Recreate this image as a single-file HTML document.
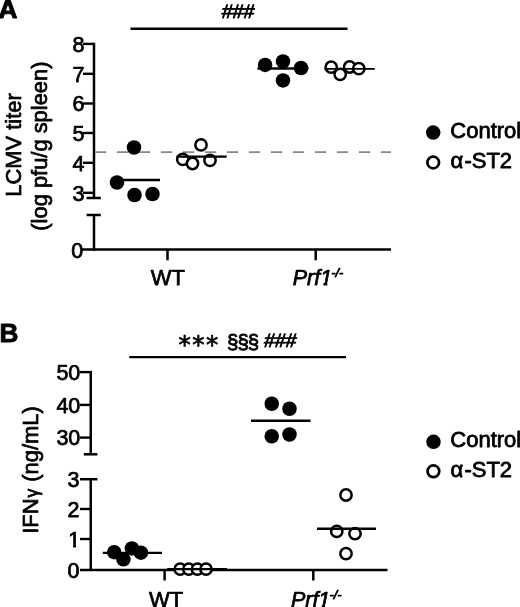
<!DOCTYPE html>
<html><head><meta charset="utf-8"><title>Figure</title>
<style>
html,body{margin:0;padding:0;background:#fff;}
body{width:520px;height:607px;overflow:hidden;}
svg{display:block;font-family:"Liberation Sans",sans-serif;fill:#000;filter:blur(0.35px);}
text{stroke:#000;stroke-width:0.75px;stroke-linejoin:round;}
</style></head><body>
<svg width="520" height="607" viewBox="0 0 520 607">
<rect width="520" height="607" fill="#fff"/>
<text x="-1.6" y="18" font-size="26.2" text-anchor="start" font-weight="bold" style="stroke-width:0.9px">A</text>
<text transform="translate(237.5,18) skewX(-6)" font-size="19.5" text-anchor="middle" style="stroke-width:0.9px">###</text>
<line x1="130.5" y1="28.7" x2="347.5" y2="28.7" stroke="#000" stroke-width="2.4" />
<line x1="94" y1="42.7" x2="94" y2="198" stroke="#000" stroke-width="2.5" />
<line x1="94" y1="215" x2="94" y2="250.8" stroke="#000" stroke-width="2.5" />
<line x1="86.6" y1="198" x2="100.8" y2="198" stroke="#000" stroke-width="2.5" />
<line x1="86.6" y1="215" x2="100.8" y2="215" stroke="#000" stroke-width="2.5" />
<line x1="83" y1="43.9" x2="94" y2="43.9" stroke="#000" stroke-width="2.4" />
<text x="84.5" y="51.699999999999996" font-size="21.5" text-anchor="end" >8</text>
<line x1="83" y1="73.8" x2="94" y2="73.8" stroke="#000" stroke-width="2.4" />
<text x="84.5" y="81.6" font-size="21.5" text-anchor="end" >7</text>
<line x1="83" y1="103.5" x2="94" y2="103.5" stroke="#000" stroke-width="2.4" />
<text x="84.5" y="111.3" font-size="21.5" text-anchor="end" >6</text>
<line x1="83" y1="133" x2="94" y2="133" stroke="#000" stroke-width="2.4" />
<text x="84.5" y="140.8" font-size="21.5" text-anchor="end" >5</text>
<line x1="83" y1="162.8" x2="94" y2="162.8" stroke="#000" stroke-width="2.4" />
<text x="84.5" y="170.60000000000002" font-size="21.5" text-anchor="end" >4</text>
<line x1="83" y1="192.8" x2="94" y2="192.8" stroke="#000" stroke-width="2.4" />
<text x="84.5" y="200.60000000000002" font-size="21.5" text-anchor="end" >3</text>
<text x="83.3" y="258.2" font-size="21.5" text-anchor="end" >0</text>
<line x1="82" y1="249.6" x2="391" y2="249.6" stroke="#000" stroke-width="2.5" />
<line x1="167.5" y1="249.6" x2="167.5" y2="260.3" stroke="#000" stroke-width="2.5" />
<line x1="315.7" y1="249.6" x2="315.7" y2="260.3" stroke="#000" stroke-width="2.5" />
<text x="167.9" y="285" font-size="22" text-anchor="middle" >WT</text>
<text x="292.7" y="285.4" font-size="21.5" font-style="italic">Prf1<tspan dy="-8" dx="-0.9" font-size="12.8">-/-</tspan></text>
<rect x="319.3" y="282.7" width="4.1" height="4" fill="#fff"/><rect x="327.3" y="282.7" width="4.4" height="4" fill="#fff"/>
<line x1="94.9" y1="152.2" x2="391" y2="152.2" stroke="#888" stroke-width="1.8" stroke-dasharray="11.3 10.7"/>
<text transform="translate(21.3,145) rotate(-90)" font-size="21.9" text-anchor="middle">LCMV titer</text>
<text transform="translate(46.5,146.1) rotate(-90)" font-size="21.9" text-anchor="middle">(log pfu/g spleen)</text>
<line x1="122.5" y1="180" x2="160" y2="180" stroke="#000" stroke-width="2.3" />
<circle cx="134" cy="147.5" r="7.25" fill="#000"/>
<circle cx="117" cy="182.5" r="7.25" fill="#000"/>
<circle cx="134.5" cy="195" r="7.25" fill="#000"/>
<circle cx="152.5" cy="194" r="7.25" fill="#000"/>
<circle cx="201" cy="144.9" r="5.65" fill="#fff" stroke="#000" stroke-width="2.5"/>
<circle cx="182.8" cy="159.4" r="5.65" fill="#fff" stroke="#000" stroke-width="2.5"/>
<circle cx="192.5" cy="163.5" r="5.65" fill="#fff" stroke="#000" stroke-width="2.5"/>
<circle cx="210" cy="160.3" r="5.65" fill="#fff" stroke="#000" stroke-width="2.5"/>
<line x1="176.5" y1="156.6" x2="226.7" y2="156.6" stroke="#000" stroke-width="2.3" />
<line x1="257.4" y1="68.5" x2="308.5" y2="68.5" stroke="#000" stroke-width="2.5" />
<circle cx="265.1" cy="64.9" r="7.25" fill="#000"/>
<circle cx="283" cy="61.4" r="7.25" fill="#000"/>
<circle cx="301" cy="68" r="7.25" fill="#000"/>
<circle cx="283" cy="80.4" r="7.25" fill="#000"/>
<circle cx="331.2" cy="67.2" r="5.65" fill="#fff" stroke="#000" stroke-width="2.5"/>
<circle cx="340.2" cy="74.3" r="5.65" fill="#fff" stroke="#000" stroke-width="2.5"/>
<circle cx="349.6" cy="67.0" r="5.65" fill="#fff" stroke="#000" stroke-width="2.5"/>
<circle cx="358.8" cy="68.7" r="5.65" fill="#fff" stroke="#000" stroke-width="2.5"/>
<line x1="324.3" y1="68.9" x2="374.8" y2="68.9" stroke="#000" stroke-width="1.9" />
<circle cx="433.2" cy="132.6" r="7.25" fill="#000"/>
<circle cx="433.2" cy="162.5" r="5.85" fill="#fff" stroke="#000" stroke-width="2.7"/>
<text x="450.3" y="138.3" font-size="22" text-anchor="start" style="stroke-width:0.8px">Control</text>
<text x="450.5" y="167.6" font-size="22" text-anchor="start" style="stroke-width:0.8px">α<tspan dx="1.2">-ST2</tspan></text>
<text x="-0.5" y="342" font-size="26.2" text-anchor="start" font-weight="bold" style="stroke-width:0.9px">B</text>
<text font-size="19" style="stroke-width:0.8px"><tspan x="178.6" y="352.9" font-family="DejaVu Sans" font-size="24.5" letter-spacing="1.45" style="stroke-width:0.7px">***</tspan><tspan x="222.3" y="348.8" font-size="20.5" letter-spacing="-1" style="white-space:pre"> §§§ </tspan></text>
<text transform="translate(263.6,346.6) skewX(-7)" font-size="19.3" style="stroke-width:0.9px">###</text>
<line x1="129.2" y1="357.1" x2="346" y2="357.1" stroke="#000" stroke-width="2.4" />
<line x1="90.75" y1="370.9" x2="90.75" y2="454.3" stroke="#000" stroke-width="2.5" />
<line x1="83.8" y1="454.3" x2="97.4" y2="454.3" stroke="#000" stroke-width="2.5" />
<line x1="90.75" y1="479.2" x2="90.75" y2="570.9" stroke="#000" stroke-width="2.5" />
<line x1="80" y1="479.2" x2="97.4" y2="479.2" stroke="#000" stroke-width="2.5" />
<line x1="80" y1="372.1" x2="90.75" y2="372.1" stroke="#000" stroke-width="2.4" />
<text x="80.3" y="379.90000000000003" font-size="21.5" text-anchor="end" >50</text>
<line x1="80" y1="404.9" x2="90.75" y2="404.9" stroke="#000" stroke-width="2.4" />
<text x="80.3" y="412.7" font-size="21.5" text-anchor="end" >40</text>
<line x1="80" y1="437.6" x2="90.75" y2="437.6" stroke="#000" stroke-width="2.4" />
<text x="80.3" y="445.40000000000003" font-size="21.5" text-anchor="end" >30</text>
<line x1="80" y1="509" x2="90.75" y2="509" stroke="#000" stroke-width="2.4" />
<text x="79.4" y="516.8" font-size="21.5" text-anchor="end" >2</text>
<line x1="80" y1="539" x2="90.75" y2="539" stroke="#000" stroke-width="2.4" />
<text x="80.2" y="546.8" font-size="21.5" text-anchor="end" >1</text>
<text x="79.4" y="577.7" font-size="21.5" text-anchor="end" >0</text>
<text x="79.4" y="486.8" font-size="21.5" text-anchor="end" >3</text>
<rect x="68" y="544.2" width="5.1" height="4" fill="#fff"/><rect x="76.0" y="544.2" width="4.5" height="4" fill="#fff"/>
<line x1="80" y1="569.9" x2="387.5" y2="569.9" stroke="#000" stroke-width="2.5" />
<line x1="164.6" y1="569" x2="164.6" y2="580.5" stroke="#000" stroke-width="2.5" />
<line x1="313.3" y1="569" x2="313.3" y2="580.5" stroke="#000" stroke-width="2.5" />
<text x="166.2" y="606.8" font-size="22" text-anchor="middle" >WT</text>
<text x="290.9" y="606.8" font-size="21.5" font-style="italic">Prf1<tspan dy="-8" dx="-0.9" font-size="12.8">-/-</tspan></text>
<rect x="317.3" y="604.2" width="4.5" height="3" fill="#fff"/><rect x="325.1" y="604.2" width="4.8" height="3" fill="#fff"/>
<text transform="translate(37.8,470) rotate(-90)" font-size="21.9" text-anchor="middle">IFN<tspan font-size="17.5" dx="1">γ</tspan><tspan dx="1"> (ng/mL)</tspan></text>
<line x1="102.8" y1="552.9" x2="162" y2="552.9" stroke="#000" stroke-width="2.3" />
<circle cx="114.2" cy="552.2" r="7.25" fill="#000"/>
<circle cx="123.4" cy="559.3" r="7.25" fill="#000"/>
<circle cx="131.9" cy="548.4" r="7.25" fill="#000"/>
<circle cx="140.9" cy="552.7" r="7.25" fill="#000"/>
<circle cx="180.2" cy="569.2" r="5.65" fill="#fff" stroke="#000" stroke-width="2.5"/>
<circle cx="188.8" cy="569.2" r="5.65" fill="#fff" stroke="#000" stroke-width="2.5"/>
<circle cx="197.4" cy="569.2" r="5.65" fill="#fff" stroke="#000" stroke-width="2.5"/>
<circle cx="206" cy="569.2" r="5.65" fill="#fff" stroke="#000" stroke-width="2.5"/>
<line x1="167.3" y1="569.1" x2="227" y2="569.1" stroke="#000" stroke-width="2.3" />
<line x1="251" y1="420.75" x2="310.5" y2="420.75" stroke="#000" stroke-width="2.5" />
<circle cx="271.75" cy="403.75" r="7.25" fill="#000"/>
<circle cx="289.5" cy="408.75" r="7.25" fill="#000"/>
<circle cx="271.75" cy="436.25" r="7.25" fill="#000"/>
<circle cx="289.5" cy="434.5" r="7.25" fill="#000"/>
<circle cx="346" cy="495" r="5.65" fill="#fff" stroke="#000" stroke-width="2.5"/>
<circle cx="336.75" cy="531.4" r="5.65" fill="#fff" stroke="#000" stroke-width="2.5"/>
<circle cx="355" cy="533.7" r="5.65" fill="#fff" stroke="#000" stroke-width="2.5"/>
<circle cx="346" cy="553.7" r="5.65" fill="#fff" stroke="#000" stroke-width="2.5"/>
<line x1="317" y1="528.75" x2="376" y2="528.75" stroke="#000" stroke-width="2.3" />
<circle cx="433.5" cy="441.8" r="7.25" fill="#000"/>
<circle cx="433.4" cy="471.3" r="5.85" fill="#fff" stroke="#000" stroke-width="2.7"/>
<text x="450.3" y="447.3" font-size="22" text-anchor="start" style="stroke-width:0.8px">Control</text>
<text x="450.5" y="476.6" font-size="22" text-anchor="start" style="stroke-width:0.8px">α<tspan dx="1.2">-ST2</tspan></text>
</svg>
</body></html>
